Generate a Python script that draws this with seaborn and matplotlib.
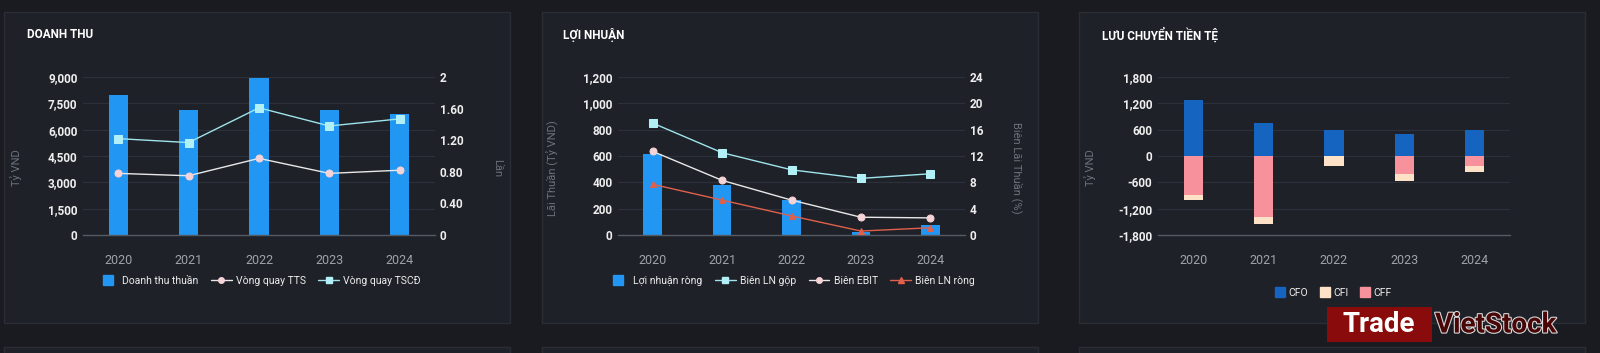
import pandas as pd
import matplotlib
matplotlib.use("Agg")
import matplotlib.pyplot as plt
import matplotlib.patheffects as pe
import seaborn as sns
from matplotlib.lines import Line2D
from matplotlib.patches import Rectangle
from matplotlib.ticker import FuncFormatter

years = ["2020", "2021", "2022", "2023", "2024"]

# Doanh thu (Tỷ VND / Lần)
doanh_thu_thuan = [7990, 7100, 8960, 7100, 6910]
vong_quay_tts = [0.78, 0.75, 0.97, 0.78, 0.82]
vong_quay_tscd = [1.22, 1.17, 1.61, 1.38, 1.47]

# Lợi nhuận (Tỷ VND / %)
loi_nhuan_rong = [614, 376, 265, 20, 76]
bien_ln_gop = [17.0, 12.5, 9.9, 8.6, 9.3]
bien_ebit = [12.7, 8.3, 5.3, 2.7, 2.6]
bien_ln_rong = [7.7, 5.3, 2.9, 0.6, 1.1]

# Lưu chuyển tiền tệ (Tỷ VND)
cfo = [1265, 745, 590, 495, 585]
cfi = [-115, -150, -225, -170, -135]
cff = [-895, -1390, 0, -400, -225]

# màu
BG = "#191b21"
CARD = "#1e2128"
BORDER = "#2a2d35"
GRID = "#2c3038"
BASE = "#555a63"
TICK = "#eeeeee"
XTICK = "#9ea3aa"
LABEL = "#6c717a"
BLUE = "#2196f3"
CFO_C = "#1565c0"
CFI_C = "#fde2c8"
CFF_C = "#f7929c"
CYAN = "#9fe4ec"
WHITE_L = "#e8e8e8"
PINK_M = "#f6d3d6"
RED_L = "#e0604c"

sns.set_theme(style="dark", rc={"axes.facecolor": "none", "figure.facecolor": BG})
plt.rcParams["font.family"] = ["Roboto", "DejaVu Sans"]

W, H = 1600, 353
fig = plt.figure(figsize=(16, 3.53), dpi=100, facecolor=BG)


def px_box(x0, y0, x1, y1):
    return [x0 / W, 1 - y1 / H, (x1 - x0) / W, (y1 - y0) / H]


# cards
for x0, x1 in [(4, 510), (542, 1038), (1079, 1585)]:
    b = px_box(x0, 12, x1, 323)
    fig.add_artist(Rectangle((b[0], b[1]), b[2], b[3], transform=fig.transFigure,
                             fc=CARD, ec=BORDER, lw=1, zorder=0))
    b = px_box(x0, 347, x1, 360)
    fig.add_artist(Rectangle((b[0], b[1]), b[2], b[3], transform=fig.transFigure,
                             fc=CARD, ec=BORDER, lw=1, zorder=0))


def comma(v, _):
    return f"{v:,.0f}"


def short_dec(v, _):
    return f"{v:.0f}" if abs(v - round(v)) < 1e-9 else f"{v:.2f}"


def style_left(ax, ylim, ticks, ylabel):
    ax.set_ylim(*ylim)
    ax.set_yticks(ticks)
    ax.yaxis.set_major_formatter(FuncFormatter(comma))
    ax.grid(axis="y", color=GRID, lw=0.9)
    ax.grid(axis="x", visible=False)
    ax.set_axisbelow(True)
    for s in ["top", "right", "left"]:
        ax.spines[s].set_visible(False)
    ax.spines["bottom"].set_color(BASE)
    ax.spines["bottom"].set_linewidth(1)
    ax.tick_params(axis="y", labelcolor=TICK, labelsize=8.5, length=0, pad=4)
    ax.tick_params(axis="x", labelcolor=XTICK, labelsize=9, length=0, pad=14)
    for t in ax.get_yticklabels():
        t.set_fontweight("bold")
    ax.set_xlabel("")
    ax.set_ylabel(ylabel, color=LABEL, fontsize=8)
    ax.yaxis.set_label_coords(-0.172, 0.424)


def style_right(ax2, ylim, ticks, ylabel, xlab):
    ax2.set_ylim(*ylim)
    ax2.set_yticks(ticks)
    ax2.yaxis.set_major_formatter(FuncFormatter(short_dec))
    ax2.grid(False)
    for s in ["top", "right", "left", "bottom"]:
        ax2.spines[s].set_visible(False)
    ax2.tick_params(axis="y", labelcolor=TICK, labelsize=8.5, length=0, pad=3.5)
    for t in ax2.get_yticklabels():
        t.set_fontweight("bold")
    ax2.set_xlabel("")
    ax2.set_ylabel(ylabel, color=LABEL, fontsize=8, rotation=270)
    ax2.yaxis.set_label_coords(xlab, 0.424)


def bars(ax, values, color):
    sns.barplot(x=years, y=values, color=color, saturation=1, width=0.27,
                errorbar=None, edgecolor="none", linewidth=0, ax=ax)


def line(ax, values, color, marker, mfc, ms):
    d = pd.DataFrame({"year": years, "v": values})
    sns.pointplot(data=d, x="year", y="v", ax=ax, color=color, markers=marker,
                  errorbar=None, linewidth=1, markersize=ms)
    ln = ax.lines[-1]
    ln.set_markerfacecolor(mfc)
    ln.set_markeredgecolor(mfc)
    ln.set_linewidth(1)
    ln.set_markersize(ms)


def leg_line(color, marker, mfc, label):
    return Line2D([], [], color=color, lw=1, marker=marker, ms=4,
                  mfc=mfc, mec=mfc, label=label)


def leg_box(color, label):
    return Line2D([], [], color=color, lw=0, marker="s", ms=7, label=label)


def add_legend(ax, handles, y, hl=2.0):
    leg = ax.legend(handles=handles, loc="center", bbox_to_anchor=(0.5, y),
                    ncol=len(handles), frameon=False, fontsize=7.5,
                    handlelength=hl, handletextpad=0.4, columnspacing=1.2)
    for t in leg.get_texts():
        t.set_color("#ececec")
    return leg


# ---------- Doanh thu ----------
ax1 = fig.add_axes(px_box(83, 77, 435, 235))
bars(ax1, doanh_thu_thuan, BLUE)
style_left(ax1, (0, 9000), range(0, 9001, 1500), "Tỷ VND")
ax1b = ax1.twinx()
line(ax1b, vong_quay_tts, WHITE_L, "o", PINK_M, 5)
line(ax1b, vong_quay_tscd, CYAN, "s", "#b0f0f6", 5.5)
style_right(ax1b, (0, 2), [0, 0.4, 0.8, 1.2, 1.6, 2], "Lần", 1.19)
add_legend(ax1, [leg_box(BLUE, "Doanh thu thuần"),
                 leg_line(WHITE_L, "o", PINK_M, "Vòng quay TTS"),
                 leg_line(CYAN, "s", "#b0f0f6", "Vòng quay TSCĐ")], -0.29)
fig.text(27 / W, 1 - 35 / H, "DOANH THU", color="white", fontsize=8.5,
         fontweight="bold", va="center", ha="left")

# ---------- Lợi nhuận ----------
ax2 = fig.add_axes(px_box(618, 77, 965, 235))
bars(ax2, loi_nhuan_rong, BLUE)
style_left(ax2, (0, 1200), range(0, 1201, 200), "Lãi Thuần (Tỷ VND)")
ax2.yaxis.set_label_coords(-0.17, 0.424)
ax2b = ax2.twinx()
line(ax2b, bien_ln_gop, CYAN, "s", "#b0f0f6", 5.5)
line(ax2b, bien_ebit, WHITE_L, "o", PINK_M, 5)
line(ax2b, bien_ln_rong, RED_L, "^", RED_L, 5)
style_right(ax2b, (0, 24), range(0, 25, 4), "Biên Lãi Thuần (%)", 1.167)
add_legend(ax2, [leg_box(BLUE, "Lợi nhuận ròng"),
                 leg_line(CYAN, "s", "#b0f0f6", "Biên LN gộp"),
                 leg_line(WHITE_L, "o", PINK_M, "Biên EBIT"),
                 leg_line(RED_L, "^", RED_L, "Biên LN ròng")], -0.29)
fig.text(563 / W, 1 - 35 / H, "LỢI NHUẬN", color="white", fontsize=8.5,
         fontweight="bold", va="center", ha="left")

# ---------- Lưu chuyển tiền tệ ----------
ax3 = fig.add_axes(px_box(1158, 77, 1510, 235))
neg_total = [a + b for a, b in zip(cff, cfi)]
bars(ax3, cfo, CFO_C)
bars(ax3, neg_total, CFI_C)
bars(ax3, cff, CFF_C)
style_left(ax3, (-1800, 1800), range(-1800, 1801, 600), "Tỷ VND")
ax3.yaxis.set_label_coords(-0.176, 0.424)
add_legend(ax3, [leg_box(CFO_C, "CFO"), leg_box(CFI_C, "CFI"),
                 leg_box(CFF_C, "CFF")], -0.367, hl=0.8)
fig.text(1102 / W, 1 - 35 / H, "LƯU CHUYỂN TIỀN TỆ", color="white",
         fontsize=8.5, fontweight="bold", va="center", ha="left")

# watermark
b = px_box(1327, 307, 1432, 342)
fig.add_artist(Rectangle((b[0], b[1]), b[2], b[3], transform=fig.transFigure,
                         fc="#8a0b0b", ec="none", zorder=5))
fig.text(1379 / W, 1 - 325 / H, "Trade", color="white", fontsize=20,
         fontweight="bold", ha="center", va="center", zorder=6)
fig.text(1435 / W, 1 - 325 / H, "VietStock", color="#4a0606", fontsize=20,
         fontweight="bold", ha="left", va="center", zorder=6,
         path_effects=[pe.withStroke(linewidth=1.6, foreground="#d8d8d8")])

fig.savefig("out.png", dpi=100, facecolor=BG)
